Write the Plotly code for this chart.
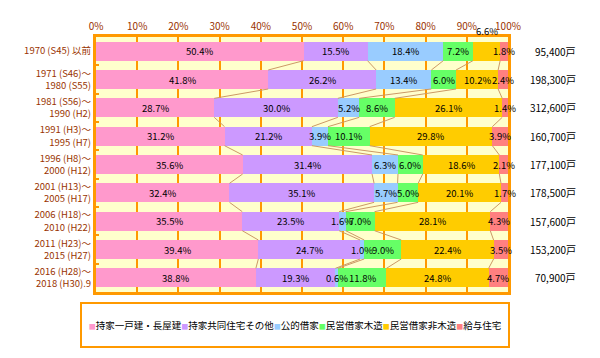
import plotly.graph_objects as go

categories = [
    "1970 (S45) 以前",
    "1971 (S46)～<br>1980 (S55)",
    "1981 (S56)～<br>1990 (H2)",
    "1991 (H3)～<br>1995 (H7)",
    "1996 (H8)～<br>2000 (H12)",
    "2001 (H13)～<br>2005 (H17)",
    "2006 (H18)～<br>2010 (H22)",
    "2011 (H23)～<br>2015 (H27)",
    "2016 (H28)～<br>2018 (H30).9",
]
series_names = ["持家一戸建・長屋建", "持家共同住宅その他", "公的借家",
                "民営借家木造", "民営借家非木造", "給与住宅"]
detached = [50.4, 41.8, 28.7, 31.2, 35.6, 32.4, 35.5, 39.4, 38.8]
owned_condo = [15.5, 26.2, 30.0, 21.2, 31.4, 35.1, 23.5, 24.7, 19.3]
public_rental = [18.4, 13.4, 5.2, 3.9, 6.3, 5.7, 1.6, 1.0, 0.6]
private_wood = [7.2, 6.0, 8.6, 10.1, 6.0, 5.0, 7.0, 9.0, 11.8]
private_nonwood = [6.6, 10.2, 26.1, 29.8, 18.6, 20.1, 28.1, 22.4, 24.8]
company_housing = [1.8, 2.4, 1.4, 3.9, 2.1, 1.7, 4.3, 3.5, 4.7]
totals = ["95,400戸", "198,300戸", "312,600戸", "160,700戸", "177,100戸",
          "178,500戸", "157,600戸", "153,200戸", "70,900戸"]

series_values = [detached, owned_condo, public_rental, private_wood,
                 private_nonwood, company_housing]
colors = ["#FF99CC", "#CC99FF", "#99CCFF", "#66FF66", "#FFCC00", "#FF8080"]
above_labels = {(0, 4)}

FONT = "Noto Sans CJK JP"
BROWN = "#993300"
ORANGE = "#FF9900"
BARGAP = 0.33

fig = go.Figure()
for name, vals, col in zip(series_names, series_values, colors):
    fig.add_trace(go.Bar(y=categories, x=vals, name=name, orientation="h",
                         marker=dict(color=col, line=dict(width=0)),
                         hoverinfo="skip"))

# cumulative boundaries
n = len(categories)
cum = []
for i in range(n):
    c = [0.0]
    for s in series_values:
        c.append(c[-1] + s[i])
    cum.append(c)

half = (1 - BARGAP) / 2
shapes = []
for i in range(n - 1):
    for k in range(1, len(series_values)):
        shapes.append(dict(type="line", xref="x", yref="y",
                           x0=cum[i][k], y0=i + half, x1=cum[i + 1][k], y1=i + 1 - half,
                           line=dict(color="#CC9966", width=1), layer="above"))

annotations = []
for i in range(n):
    for k, s in enumerate(series_values):
        xc = (cum[i][k] + cum[i][k + 1]) / 2
        a = dict(x=xc, y=categories[i], xref="x", yref="y", text=f"{s[i]:.1f}%",
                 showarrow=False, font=dict(size=9.5, color="black", family=FONT))
        if (i, k) in above_labels:
            a["yshift"] = 20
        annotations.append(a)
    annotations.append(dict(x=1, xref="paper", xshift=70, xanchor="right",
                            y=categories[i], yref="y", text=totals[i], showarrow=False,
                            font=dict(size=10, color="black", family=FONT)))

legend_text = "".join(
    f"<span style='color:{c};font-size:7px'>■</span>{nm}"
    for nm, c in zip(series_names, colors))
annotations.append(dict(x=0.483, y=-0.131, xref="paper", yref="paper",
                        xanchor="center", yanchor="middle",
                        text=legend_text, showarrow=False, width=424, height=40,
                        bordercolor=ORANGE, borderwidth=2, borderpad=1,
                        bgcolor="white", align="center", valign="middle",
                        font=dict(size=9.5, color="black", family=FONT)))

# page body has an 8px default margin, so the figure is sized to fit the window
fig.update_layout(
    width=592, height=350,
    margin=dict(l=88, r=92, t=29, b=66, autoexpand=False),
    barmode="stack", bargap=BARGAP,
    plot_bgcolor="#FFFFCC", paper_bgcolor="white",
    showlegend=False,
    font=dict(family=FONT, size=10),
    shapes=shapes, annotations=annotations,
)
fig.update_xaxes(range=[0, 100], side="top", dtick=10, ticksuffix="%",
                 showgrid=True, gridcolor=ORANGE, gridwidth=1.5,
                 showline=True, mirror=True, linecolor=ORANGE, linewidth=3,
                 zeroline=False, ticks="", tickfont=dict(color=BROWN, size=10),
                 automargin=False, fixedrange=True)
fig.update_yaxes(type="category", categoryorder="array", categoryarray=categories,
                 autorange="reversed", showgrid=False, showline=True, mirror=True,
                 linecolor=ORANGE, linewidth=3, tickson="boundaries", ticks="inside",
                 ticklen=3, tickwidth=2, tickcolor=ORANGE,
                 tickfont=dict(color=BROWN, size=9.5), automargin=False,
                 fixedrange=True)

fig.write_html("out.html")
